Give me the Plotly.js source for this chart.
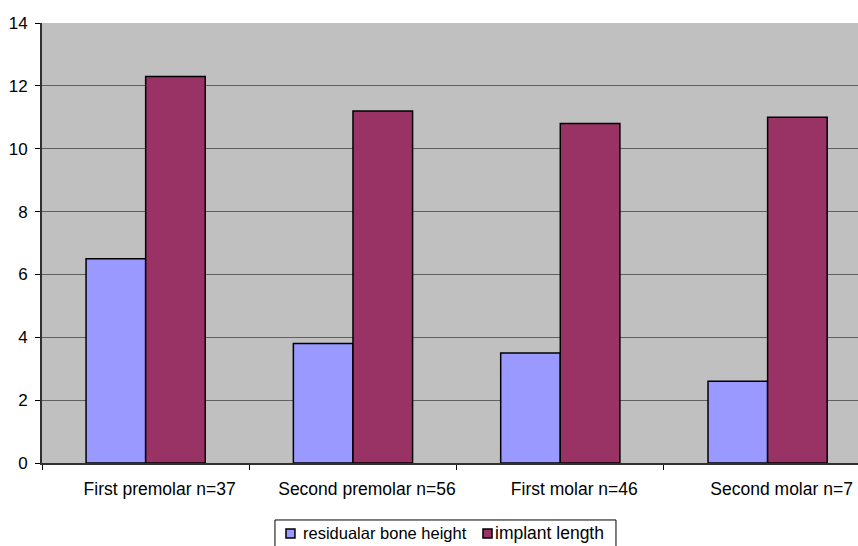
<!DOCTYPE html>
<html><head><meta charset="utf-8">
<script src="https://cdn.plot.ly/plotly-3.0.1.min.js"></script>
<style>html,body{margin:0;padding:0;background:#fff;}#chart{width:858px;height:546px;}</style>
</head><body><div id="chart"></div>
<script>
var categories = ["First premolar n=37", "Second premolar n=56", "First molar n=46", "Second molar n=7"];
var seriesNames = ["residualar bone height", "implant length"];
var seriesColors = ["#9999FF", "#993366"];
var boneHeight = [6.5, 3.8, 3.5, 2.6];
var implantLength = [12.3, 11.2, 10.8, 11.0];
var yTicks = [0, 2, 4, 6, 8, 10, 12, 14];

var traces = [
  {type: "bar", name: seriesNames[0], x: categories, y: boneHeight,
   marker: {color: seriesColors[0], line: {color: "#000000", width: 1.5}}},
  {type: "bar", name: seriesNames[1], x: categories, y: implantLength,
   marker: {color: seriesColors[1], line: {color: "#000000", width: 1.5}}}
];

// custom legend (box + swatches + labels), placed in paper coordinates
var legendShapes = [
  {type: "rect", xref: "paper", yref: "paper", x0: 0.2855, x1: 0.7034, y0: -0.21, y1: -0.1295,
   line: {color: "#000000", width: 1}, fillcolor: "#ffffff", layer: "above"},
  {type: "rect", xref: "paper", yref: "paper", x0: 0.2990, x1: 0.3100, y0: -0.1705, y1: -0.1500,
   line: {color: "#000000", width: 1.5}, fillcolor: seriesColors[0], layer: "above"},
  {type: "rect", xref: "paper", yref: "paper", x0: 0.5404, x1: 0.5515, y0: -0.1705, y1: -0.1500,
   line: {color: "#000000", width: 1.5}, fillcolor: seriesColors[1], layer: "above"}
];
var legendLabels = [
  {xref: "paper", yref: "paper", x: 0.3176, y: -0.1591, xanchor: "left", yanchor: "middle",
   text: seriesNames[0], showarrow: false, font: {size: 16.5}},
  {xref: "paper", yref: "paper", x: 0.5529, y: -0.1591, xanchor: "left", yanchor: "middle",
   text: seriesNames[1], showarrow: false, font: {size: 17.5}}
];

var layout = {
  width: 858, height: 546,
  margin: {l: 42, r: 0, t: 23, b: 83},
  paper_bgcolor: "#ffffff",
  plot_bgcolor: "#C0C0C0",
  font: {family: "Liberation Sans, Arial, sans-serif", size: 17, color: "#000000"},
  barmode: "group",
  bargap: 0.425,
  bargroupgap: 0,
  showlegend: false,
  shapes: legendShapes,
  annotations: legendLabels,
  xaxis: {type: "category", range: [-0.5, 3.436], tickson: "boundaries",
          ticks: "outside", ticklen: 5, tickcolor: "#000000",
          showline: true, linecolor: "#303030", linewidth: 2,
          showgrid: false, zeroline: false, ticklabelstandoff: 9,
          ticklabelshift: 14, tickfont: {size: 17.5}},
  yaxis: {range: [0, 14], tickvals: yTicks, ticks: "outside", ticklen: 5,
          tickcolor: "#000000", showline: true, linecolor: "#303030", linewidth: 2,
          showgrid: true, gridcolor: "#606060", gridwidth: 1, zeroline: false,
          ticklabelstandoff: 4, tickfont: {size: 17}}
};

Plotly.newPlot("chart", traces, layout, {displayModeBar: false, staticPlot: true});
</script>
</body></html>
